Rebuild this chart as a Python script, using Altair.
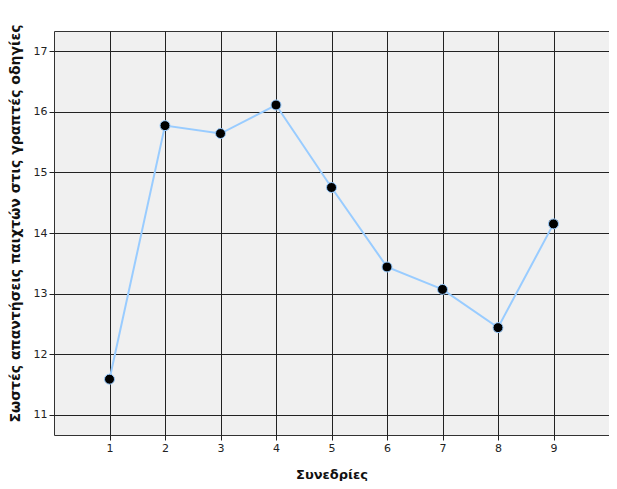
import altair as alt
import pandas as pd

sessions = [1, 2, 3, 4, 5, 6, 7, 8, 9]
correct = [11.59, 15.77, 15.64, 16.11, 14.75, 13.44, 13.07, 12.44, 14.15]

df = pd.DataFrame({"session": sessions, "correct": correct})

x = alt.X("session:Q", scale=alt.Scale(domain=[0, 10], nice=False, zero=False),
          axis=alt.Axis(values=sessions, title="Συνεδρίες", format="d"))
y = alt.Y("correct:Q", scale=alt.Scale(domain=[10.67, 17.33], nice=False, zero=False),
          axis=alt.Axis(values=[11, 12, 13, 14, 15, 16, 17], format="d",
                        title="Σωστές απαντήσεις παιχτών στις γραπτές οδηγίες"))

line = alt.Chart(df).mark_line(color="#99ccff", strokeWidth=2).encode(x=x, y=y)
pts = alt.Chart(df).mark_point(filled=True, fill="black", stroke="#99ccff",
                               strokeWidth=1, size=100, opacity=1).encode(x=x, y=y)

chart = (line + pts).properties(
    width=555, height=404,
    autosize=alt.AutoSizeParams(type="none"),
    padding={"left": 46, "top": 23, "right": 0, "bottom": 46},
).configure_view(
    fill="#f0f0f0", stroke="#333333", strokeWidth=1
).configure_axis(
    grid=True, gridColor="#222222", gridWidth=1, gridOpacity=1,
    domain=False, tickColor="#222222", tickSize=5,
    labelFont="DejaVu Sans", labelFontSize=11, labelColor="#222222",
    titleFont="DejaVu Sans", titleColor="#111111", labelPadding=2,
).configure_axisX(
    titleFontSize=13, titleFontWeight="bold", titlePadding=15,
).configure_axisY(
    titleFontSize=14, titleFontWeight="bold", titlePadding=11, titleY=192,
)

chart.save("out.html", embed_options={"renderer": "svg", "actions": False})
